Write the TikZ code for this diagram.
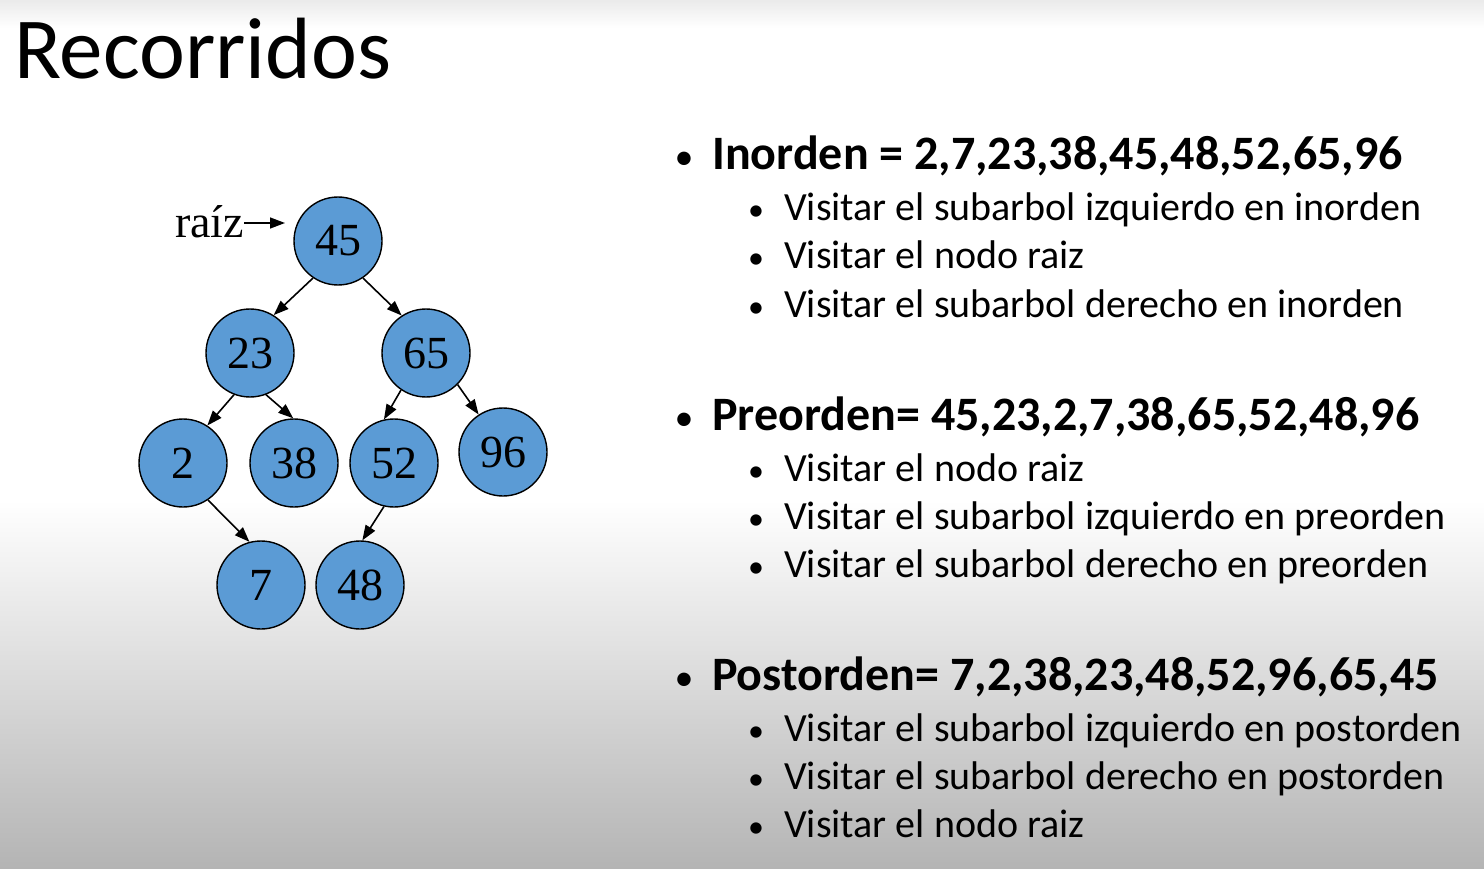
\documentclass[tikz,border=0pt]{standalone}
\usepackage{fontspec}
\setmainfont{Carlito}
\newfontfamily\timesf{Liberation Serif}
\usetikzlibrary{arrows.meta}
\definecolor{nodeblue}{RGB}{91,155,213}
\definecolor{bgbottom}{RGB}{180,180,180}
\begin{document}
\begin{tikzpicture}[x=1pt,y=-1pt,
  tnode/.style={circle,draw=black,line width=1.4pt,fill=nodeblue,minimum size=88pt,inner sep=0pt,font=\timesf\fontsize{46}{46}\selectfont},
  edge/.style={line width=1.6pt,-{Triangle[length=15pt,width=11pt]}},
  hdr/.style={anchor=base west,inner sep=0pt,font=\fontsize{48}{48}\selectfont\bfseries},
  sub/.style={anchor=base west,inner sep=0pt,font=\fontsize{40}{40}\selectfont},
  bul/.style={anchor=base,inner sep=0pt,font=\fontsize{38}{38}\selectfont},
  sbul/.style={anchor=base,inner sep=0pt,font=\fontsize{32}{32}\selectfont}]
\useasboundingbox (0,0) rectangle (1484,869);
\fill[white] (0,0) rectangle (1484,869);
\shade[top color=white,bottom color=bgbottom] (0,500) rectangle (1484,869);
\shade[top color=black!8,bottom color=white] (0,0) rectangle (1484,28);
% title
\node[anchor=base west,inner sep=0pt,font=\fontsize{87}{87}\selectfont] (title) at (14,79) {Recorridos};
% tree
\node[tnode] (n45) at (338,241) {45};
\node[tnode] (n23) at (250,353) {23};
\node[tnode] (n65) at (426,353) {65};
\node[tnode] (n2) at (183,463) {2};
\node[tnode] (n38) at (294,463) {38};
\node[tnode] (n52) at (394,463) {52};
\node[tnode] (n96) at (503,452) {96};
\node[tnode] (n7) at (261,585) {7};
\node[tnode] (n48) at (360,585) {48};
\draw[edge] (n45.236) -- (n23.58);
\draw[edge] (n45.304) -- (n65.123);
\draw[edge] (n23.249) -- (n2.57);
\draw[edge] (n23.291) -- (n38.91);
\draw[edge] (n65.236) -- (n52.103);
\draw[edge] (n65.315) -- (n96.123);
\draw[edge] (n2.304) -- (n7.105);
\draw[edge] (n52.257) -- (n48.87);
\node[anchor=base west,inner sep=0pt,font=\timesf\fontsize{46}{46}\selectfont] (raiz) at (175,238) {raíz};
\coordinate (raizend) at (285,223);
\draw[edge,line width=1.4pt] (raiz.east |- raizend) -- (raizend);
% text
\node[bul] (b1) at (684,170) {•};
\node[hdr] (h1) at (712,170) {Inorden = 2,7,23,38,45,48,52,65,96};
\node[sbul] (b11) at (756,221) {•};
\node[sub] (s11) at (784,221) {Visitar el subarbol izquierdo en inorden};
\node[sbul] (b12) at (756,269) {•};
\node[sub] (s12) at (784,269) {Visitar el nodo raiz};
\node[sbul] (b13) at (756,317) {•};
\node[sub] (s13) at (784,317) {Visitar el subarbol derecho en inorden};
\node[bul] (b2) at (684,430) {•};
\node[hdr] (h2) at (712,430) {Preorden= 45,23,2,7,38,65,52,48,96};
\node[sbul] (b21) at (756,481) {•};
\node[sub] (s21) at (784,481) {Visitar el nodo raiz};
\node[sbul] (b22) at (756,529) {•};
\node[sub] (s22) at (784,529) {Visitar el subarbol izquierdo en preorden};
\node[sbul] (b23) at (756,577) {•};
\node[sub] (s23) at (784,577) {Visitar el subarbol derecho en preorden};
\node[bul] (b3) at (684,690) {•};
\node[hdr] (h3) at (712,690) {Postorden= 7,2,38,23,48,52,96,65,45};
\node[sbul] (b31) at (756,741) {•};
\node[sub] (s31) at (784,741) {Visitar el subarbol izquierdo en postorden};
\node[sbul] (b32) at (756,789) {•};
\node[sub] (s32) at (784,789) {Visitar el subarbol derecho en postorden};
\node[sbul] (b33) at (756,837) {•};
\node[sub] (s33) at (784,837) {Visitar el nodo raiz};
\end{tikzpicture}
\end{document}
